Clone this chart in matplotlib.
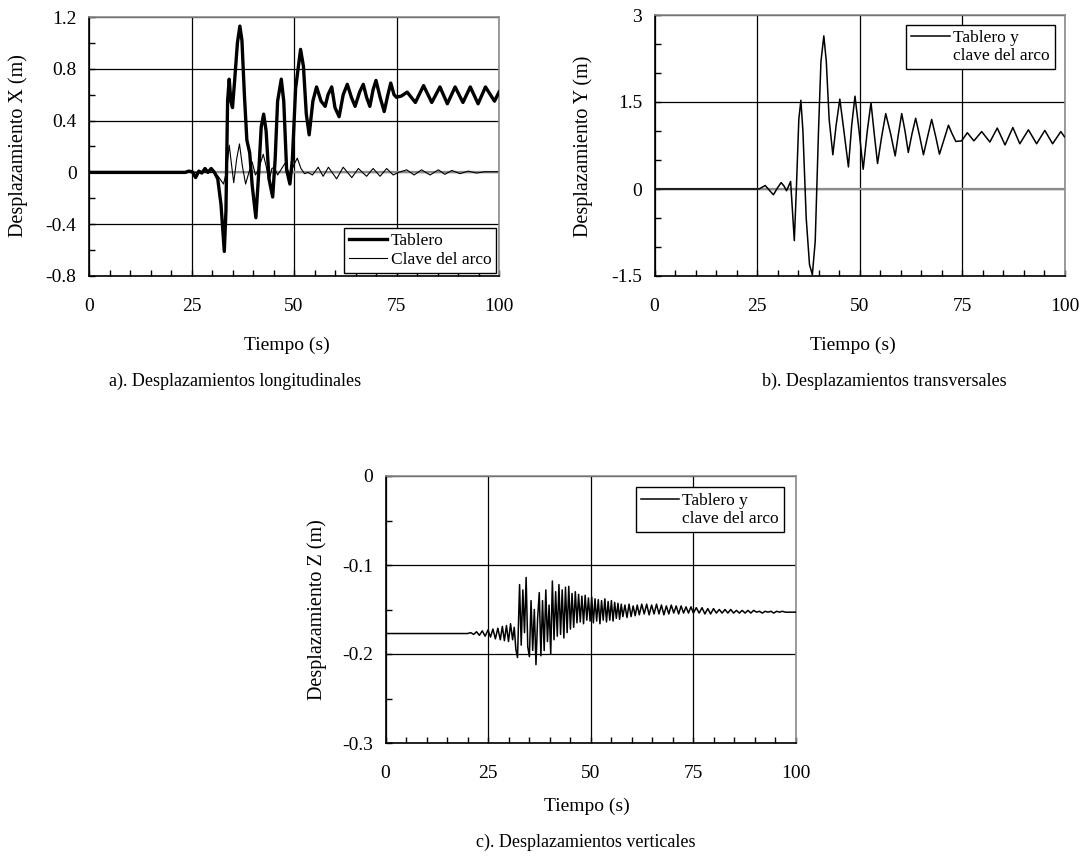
import matplotlib
matplotlib.use("Agg")
import matplotlib.pyplot as plt
from matplotlib.ticker import MultipleLocator, FuncFormatter
from matplotlib.lines import Line2D

plt.rcParams['font.family'] = ['Liberation Serif', 'DejaVu Serif']
plt.rcParams['axes.unicode_minus'] = False

# ---- data (time in s, displacement in m) ----
tablero_x = [(0, 0), (23.5, 0), (24.3, 0.01), (25.2, 0.005), (26.0, -0.04), (26.8, 0.01),
             (27.5, -0.005), (28.3, 0.03), (29.0, 0.0), (29.8, 0.03), (30.6, 0.0), (31.4, -0.05),
             (32.2, -0.25), (33.0, -0.61), (33.4, -0.3), (33.8, 0.55), (34.2, 0.72), (34.6, 0.55),
             (35.0, 0.50), (35.5, 0.70), (36.2, 1.0), (36.8, 1.13), (37.3, 1.02), (37.9, 0.6),
             (38.5, 0.25), (39.2, 0.15), (39.8, -0.1), (40.7, -0.35), (41.4, 0.0), (42.0, 0.35),
             (42.6, 0.45), (43.2, 0.32), (43.9, -0.05), (44.8, -0.19), (45.4, 0.1), (46.0, 0.55),
             (46.9, 0.72), (47.5, 0.55), (48.2, 0.02), (49.0, -0.09), (49.6, 0.1), (50.4, 0.65),
             (51.6, 0.95), (52.3, 0.82), (53.0, 0.45), (53.7, 0.29), (54.6, 0.55), (55.5, 0.66),
             (56.6, 0.55), (57.6, 0.51), (58.3, 0.6), (59.2, 0.66), (60.0, 0.5), (61.0, 0.43),
             (62.0, 0.6), (63.0, 0.68), (64.0, 0.58), (64.9, 0.51), (66.0, 0.62), (66.9, 0.68),
             (67.7, 0.58), (68.5, 0.51), (69.3, 0.64), (70.0, 0.71), (71.0, 0.58), (72.0, 0.47),
             (72.9, 0.6), (73.6, 0.69), (74.4, 0.6), (75.0, 0.58), (76.2, 0.59), (77.6, 0.62),
             (79.6, 0.54), (81.6, 0.67), (83.6, 0.54), (85.6, 0.66), (87.4, 0.53), (89.3, 0.66),
             (91.2, 0.54), (93.0, 0.66), (94.9, 0.53), (96.7, 0.66), (98.9, 0.55), (100, 0.62)]

clave_x = [(0, 0), (30.5, 0), (31.5, -0.03), (32.8, -0.09), (33.5, 0.0), (34.2, 0.21),
           (34.8, 0.05), (35.3, -0.08), (36.0, 0.1), (36.7, 0.22), (37.4, 0.05), (38.2, -0.09),
           (39.0, 0.0), (39.8, 0.08), (40.6, -0.02), (41.3, 0.02), (42.5, 0.14), (43.2, 0.05),
           (43.9, -0.07), (44.6, 0.03), (45.2, 0.04), (46.0, -0.02), (47.8, 0.07), (49.0, -0.02),
           (50.0, 0.06), (50.8, 0.11), (51.7, 0.03), (52.6, -0.01), (53.4, 0.0), (54.5, -0.02),
           (55.9, 0.04), (57.1, -0.03), (58.4, 0.04), (60.4, -0.05), (62.0, 0.04), (64.1, -0.04),
           (65.7, 0.03), (67.7, -0.03), (69.3, 0.03), (71.0, -0.03), (72.6, 0.03), (74.2, -0.02),
           (75.5, 0.0), (77.5, 0.02), (79.3, -0.02), (81.1, 0.02), (83.2, -0.02), (85.2, 0.02),
           (86.8, -0.015), (88.5, 0.015), (90.5, -0.01), (92.5, 0.01), (94.5, -0.005),
           (96.5, 0.005), (100, 0.005)]

despl_y = [(0, 0), (25.5, 0), (27.0, 0.06), (28.0, -0.02), (29.0, -0.10), (30.0, 0.02),
           (30.9, 0.11), (31.6, 0.05), (32.2, -0.03), (33.2, 0.13), (34.1, -0.89), (34.6, 0.0),
           (35.2, 1.2), (35.7, 1.53), (36.2, 1.0), (37.0, -0.5), (37.8, -1.3), (38.5, -1.48),
           (39.2, -0.9), (40.0, 1.0), (40.6, 2.2), (41.3, 2.64), (41.9, 2.2), (42.6, 1.2),
           (43.5, 0.59), (44.3, 1.1), (45.2, 1.55), (46.2, 1.0), (47.3, 0.38), (48.1, 1.1),
           (48.9, 1.60), (49.9, 1.0), (50.9, 0.34), (51.9, 1.0), (52.8, 1.49), (53.6, 0.95),
           (54.4, 0.44), (55.4, 0.9), (56.4, 1.30), (57.6, 0.95), (58.7, 0.57), (59.5, 0.95),
           (60.3, 1.30), (61.1, 1.0), (61.9, 0.63), (62.8, 0.95), (63.7, 1.22), (64.7, 0.9),
           (65.6, 0.59), (66.6, 0.9), (67.6, 1.20), (68.6, 0.9), (69.5, 0.60), (70.6, 0.85),
           (71.7, 1.10), (72.6, 0.95), (73.5, 0.82), (74.9, 0.83), (76.3, 0.97), (77.9, 0.83),
           (79.8, 0.99), (81.8, 0.81), (83.6, 1.05), (85.5, 0.76), (87.4, 1.06), (89.1, 0.78),
           (91.2, 1.02), (93.2, 0.78), (95.2, 1.01), (97.1, 0.78), (99.1, 0.99), (100, 0.90)]

despl_z = [(0, -0.177), (20.0, -0.177), (20.8, -0.176), (21.5, -0.178), (22.2, -0.175),
           (22.9, -0.179), (23.6, -0.174), (24.3, -0.180), (25.0, -0.173), (25.6, -0.181),
           (26.2, -0.172), (26.8, -0.183), (27.4, -0.171), (28.0, -0.184), (28.5, -0.169),
           (29.0, -0.185), (29.5, -0.168), (30.0, -0.186), (30.5, -0.166), (31.0, -0.184),
           (31.4, -0.170), (31.8, -0.195), (32.2, -0.204), (32.7, -0.122), (33.1, -0.190),
           (33.5, -0.128), (33.9, -0.176), (34.3, -0.114), (34.7, -0.192), (35.1, -0.203),
           (35.5, -0.140), (35.9, -0.196), (36.3, -0.150), (36.7, -0.212), (37.1, -0.160),
           (37.5, -0.131), (37.9, -0.202), (38.3, -0.140), (38.7, -0.196), (39.1, -0.128),
           (39.5, -0.186), (39.9, -0.145), (40.3, -0.200), (40.7, -0.118), (41.1, -0.184),
           (41.5, -0.130), (41.9, -0.180), (42.3, -0.122), (42.7, -0.178), (43.1, -0.128),
           (43.5, -0.182), (43.9, -0.125), (44.3, -0.176), (44.7, -0.124), (45.1, -0.172),
           (45.5, -0.132), (45.9, -0.170), (46.3, -0.130), (46.7, -0.165), (47.1, -0.133),
           (47.5, -0.164), (47.9, -0.135), (48.3, -0.166), (48.7, -0.134), (49.1, -0.162),
           (49.5, -0.137), (49.9, -0.163), (50.3, -0.136), (50.7, -0.165), (51.1, -0.138),
           (51.5, -0.163), (51.9, -0.139), (52.3, -0.166), (52.7, -0.140), (53.1, -0.162),
           (53.5, -0.138), (53.9, -0.164), (54.3, -0.141), (54.7, -0.162), (55.1, -0.140),
           (55.5, -0.163), (55.9, -0.142), (56.3, -0.160), (56.7, -0.143), (57.1, -0.161),
           (57.5, -0.144), (57.9, -0.158), (58.4, -0.145), (58.9, -0.159), (59.4, -0.144),
           (59.9, -0.158), (60.4, -0.146), (60.9, -0.157), (61.4, -0.145), (61.9, -0.156),
           (62.5, -0.144), (63.1, -0.155), (63.7, -0.144), (64.3, -0.156), (64.9, -0.145),
           (65.5, -0.155), (66.1, -0.144), (66.7, -0.155), (67.3, -0.145), (67.9, -0.156),
           (68.5, -0.146), (69.1, -0.155), (69.7, -0.145), (70.3, -0.154), (70.9, -0.146),
           (71.5, -0.155), (72.1, -0.146), (72.7, -0.154), (73.3, -0.147), (73.9, -0.154),
           (74.5, -0.147), (75.1, -0.154), (75.8, -0.148), (76.5, -0.154), (77.2, -0.148),
           (77.9, -0.155), (78.6, -0.149), (79.3, -0.155), (80.0, -0.149), (80.7, -0.154),
           (81.4, -0.150), (82.1, -0.154), (82.8, -0.150), (83.5, -0.154), (84.2, -0.150),
           (84.9, -0.154), (85.6, -0.151), (86.3, -0.154), (87.0, -0.151), (87.7, -0.154),
           (88.4, -0.151), (89.1, -0.154), (89.8, -0.151), (90.5, -0.153), (91.2, -0.152),
           (91.9, -0.154), (92.6, -0.152), (93.3, -0.153), (94.0, -0.152), (94.7, -0.154),
           (95.4, -0.152), (96.1, -0.153), (96.8, -0.152), (97.5, -0.153), (100, -0.153)]

W, H = 1081, 859
fig = plt.figure(figsize=(W / 100, H / 100), dpi=100)


def box(l, t, r, b):
    # pixel box -> figure fraction
    return [l / W, 1 - b / H, (r - l) / W, (b - t) / H]


def fmt(v, pos):
    if abs(v) < 1e-9:
        return "0"
    return f"{v:g}"


def style(ax, ylim, major, minor, zero_line):
    ax.set_xlim(0, 100)
    ax.set_ylim(*ylim)
    ax.xaxis.set_major_locator(MultipleLocator(25))
    ax.xaxis.set_minor_locator(MultipleLocator(5))
    ax.yaxis.set_major_locator(MultipleLocator(major))
    ax.yaxis.set_minor_locator(MultipleLocator(minor))
    ax.yaxis.set_major_formatter(FuncFormatter(fmt))
    ax.tick_params(which='both', direction='in', length=4, width=1, colors='black',
                   top=False, right=False, labelsize=14)
    ax.tick_params(axis='x', which='major', pad=16)
    ax.tick_params(axis='y', which='major', pad=9)
    ax.grid(True, which='major', color='black', lw=0.9)
    ax.set_axisbelow(True)
    for s in ['top', 'right']:
        ax.spines[s].set_color('#8c8c8c')
        ax.spines[s].set_linewidth(1.2)
    for s in ['left', 'bottom']:
        ax.spines[s].set_color('black')
        ax.spines[s].set_linewidth(1.2)
    if zero_line:
        ax.axhline(0, color='#8c8c8c', lw=1.6, zorder=1.5)


# a) longitudinal
ax1 = fig.add_axes(box(89, 17, 499, 276))
style(ax1, (-0.8, 1.2), 0.4, 0.2, True)
t, v = zip(*clave_x)
l2, = ax1.plot(t, v, color='black', lw=0.8, zorder=2)
t, v = zip(*tablero_x)
l1, = ax1.plot(t, v, color='black', lw=2.4, zorder=3)
ax1.legend([l1, l2], ['Tablero', 'Clave del arco'], loc='lower right',
           bbox_to_anchor=(1.0, 0.0), borderaxespad=0.15, fontsize=12.5, frameon=True,
           fancybox=False, edgecolor='black', framealpha=1, handlelength=2.2,
           handletextpad=0.2, labelspacing=0.15, borderpad=0.3).get_frame().set_linewidth(1.0)

# b) transverse
ax2 = fig.add_axes(box(654.5, 15, 1064.5, 276))
style(ax2, (-1.5, 3.0), 1.5, 0.5, True)
t, v = zip(*despl_y)
l3, = ax2.plot(t, v, color='black', lw=1.1, zorder=3)
blank = Line2D([], [], color='none')
ax2.legend([l3, blank], ['Tablero y', 'clave del arco'], loc='upper right',
           bbox_to_anchor=(1.0, 1.0), borderaxespad=0.55, fontsize=12.5, frameon=True,
           fancybox=False, edgecolor='black', framealpha=1, handlelength=2.2,
           handletextpad=0.2, labelspacing=0.1, borderpad=0.3).get_frame().set_linewidth(1.0)

# c) vertical
ax3 = fig.add_axes(box(385.5, 476, 795.5, 743))
style(ax3, (-0.3, 0.0), 0.1, 0.05, False)
t, v = zip(*despl_z)
l4, = ax3.plot(t, v, color='black', lw=1.1, zorder=3)
blank = Line2D([], [], color='none')
ax3.legend([l4, blank], ['Tablero y', 'clave del arco'], loc='upper right',
           bbox_to_anchor=(1.0, 1.0), borderaxespad=0.65, fontsize=12.5, frameon=True,
           fancybox=False, edgecolor='black', framealpha=1, handlelength=2.2,
           handletextpad=0.2, labelspacing=0.1, borderpad=0.3).get_frame().set_linewidth(1.0)

# labels and captions
def ftext(x, y, s, **kw):
    fig.text(x / W, 1 - y / H, s, ha='center', va='center', **kw)

ftext(18, 146, 'Desplazamiento X (m)', rotation=90, fontsize=14.5)
ftext(583, 146, 'Desplazamiento Y (m)', rotation=90, fontsize=14.5)
ftext(317, 610, 'Desplazamiento Z (m)', rotation=90, fontsize=14.5)
ftext(287, 345, 'Tiempo (s)', fontsize=14)
ftext(853, 345, 'Tiempo (s)', fontsize=14)
ftext(587, 806, 'Tiempo (s)', fontsize=14)
ftext(235, 381, 'a). Desplazamientos longitudinales', fontsize=13)
ftext(884, 381, 'b). Desplazamientos transversales', fontsize=13)
ftext(586, 842, 'c). Desplazamientos verticales', fontsize=13)

fig.savefig('out.png', dpi=100)
